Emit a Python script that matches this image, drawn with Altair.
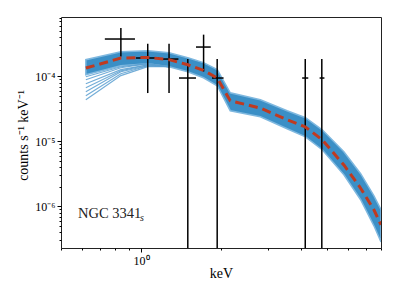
import altair as alt
import pandas as pd

# ---- data points (energy bins with errors) ----
pt_e   = [0.84, 1.06, 1.275, 1.50, 1.72, 1.935, 4.15, 4.79]
pt_elo = [0.731, 0.957, 1.18, 1.39, 1.61, 1.85, 4.04, 4.70]
pt_ehi = [0.949, 1.17, 1.383, 1.61, 1.83, 2.045, 4.26, 4.90]
pt_y   = [3.76e-4, 1.92e-4, 1.85e-4, 9.45e-5, 2.83e-4, 9.45e-5, 9.45e-5, 9.45e-5]
pt_ylo = [2.03e-4, 5.55e-5, 5.55e-5, 1e-8, 1.19e-4, 1e-8, 1e-8, 1e-8]
pt_yhi = [5.56e-4, 3.18e-4, 3.18e-4, 1.85e-4, 4.39e-4, 1.85e-4, 1.85e-4, 1.85e-4]

# ---- model realisations ----
model_e = [0.62, 0.84, 1.06, 1.275, 1.50, 1.718, 1.936, 2.167, 2.813, 3.546,
           4.158, 4.807, 5.80, 6.706, 7.525, 8.0]
median  = [1.345e-4, 1.92e-4, 1.96e-4, 1.81e-4, 1.51e-4, 1.24e-4, 9.45e-5, 4.22e-5,
           3.26e-5, 2.16e-5, 1.67e-5, 1.06e-5, 4.35e-6, 1.91e-6, 8.9e-7, 5.23e-7]
band_hi = [1.81e-4, 2.40e-4, 2.48e-4, 2.32e-4, 1.94e-4, 1.63e-4, 1.27e-4, 5.61e-5,
           4.38e-5, 2.97e-5, 2.32e-5, 1.51e-5, 6.95e-6, 3.19e-6, 1.46e-6, 8.9e-7]
band_lo = [1.06e-4, 1.46e-4, 1.57e-4, 1.41e-4, 1.18e-4, 9.55e-5, 7.19e-5, 2.97e-5,
           2.40e-5, 1.57e-5, 1.18e-5, 7.45e-6, 3.08e-6, 1.27e-6, 5.05e-7, 2.86e-7]

# lower realisations fanning out at low energy
fan_e = [0.62, 0.84, 1.06, 1.275]
fan_lines = [
    [9.89e-5, 1.41e-4, 1.57e-4, 1.41e-4],
    [8.89e-5, 1.36e-4, 1.57e-4, 1.41e-4],
    [7.72e-5, 1.27e-4, 1.51e-4, 1.41e-4],
    [6.70e-5, 1.22e-4, 1.51e-4, 1.41e-4],
    [5.82e-5, 1.18e-4, 1.46e-4, 1.41e-4],
    [5.05e-5, 1.10e-4, 1.46e-4, 1.41e-4],
    [4.38e-5, 1.03e-4, 1.41e-4, 1.41e-4],
]

x_major = [1]
x_minor = [0.5, 0.6, 0.7, 0.8, 0.9, 2, 3, 4, 5, 6, 7, 8]
y_major = [1e-6, 1e-5, 1e-4]
y_minor = [3e-7, 4e-7, 5e-7, 6e-7, 7e-7, 8e-7, 9e-7,
           2e-6, 3e-6, 4e-6, 5e-6, 6e-6, 7e-6, 8e-6, 9e-6,
           2e-5, 3e-5, 4e-5, 5e-5, 6e-5, 7e-5, 8e-5, 9e-5,
           2e-4, 3e-4, 4e-4, 5e-4, 6e-4, 7e-4, 8e-4]

label_text = "NGC 3341"
label_sub = "s"

FONT = "Liberation Serif"

model_df = pd.DataFrame({"e": model_e, "med": median, "hi": band_hi, "lo": band_lo})
fan_df = pd.DataFrame(
    [{"e": e, "v": v, "id": i} for i, line in enumerate(fan_lines) for e, v in zip(fan_e, line)]
)
pts_df = pd.DataFrame({"e": pt_e, "elo": pt_elo, "ehi": pt_ehi,
                       "y": pt_y, "ylo": pt_ylo, "yhi": pt_yhi})

xscale = alt.Scale(type="log", domain=[0.5, 8.0], nice=False, zero=False)
yscale = alt.Scale(type="log", domain=[2.3e-7, 8.2e-4], nice=False, zero=False)

ax_x_major = alt.Axis(values=x_major, orient="bottom", tickSize=4, labelExpr="'10⁰'",
                      title="keV", grid=False, domain=False, labelPadding=3,
                      labelFontSize=12, titleFontSize=14, titleY=25,
                      titleBaseline="middle", tickColor="black", labelColor="black")
ax_x_minor = alt.Axis(values=x_minor, orient="bottom", tickSize=2, labels=False,
                      title=None, grid=False, domain=False, tickColor="black")
ax_y_major = alt.Axis(values=y_major, orient="left", tickSize=4,
                      labelExpr="datum.value < 5e-6 ? '10⁻⁶' : (datum.value < 5e-5 ? '10⁻⁵' : '10⁻⁴')",
                      title="counts s⁻¹ keV⁻¹", grid=False, domain=False, labelPadding=2,
                      labelFontSize=12, titleFontSize=14, titleX=-38, titleY=118,
                      titleAngle=-90, titleAlign="center", titleBaseline="middle",
                      tickColor="black", labelColor="black")
ax_y_minor = alt.Axis(values=y_minor, orient="left", tickSize=2, labels=False,
                      title=None, grid=False, domain=False, tickColor="black")

band = alt.Chart(model_df).mark_area(
    color="#3b8fc6", stroke="#7fb8df", strokeWidth=1.5, opacity=1, clip=True
).encode(
    x=alt.X("e:Q", scale=xscale, axis=ax_x_major),
    y=alt.Y("lo:Q", scale=yscale, axis=ax_y_major),
    y2="hi:Q",
)

fans = alt.Chart(fan_df).mark_line(color="#5a9fd0", strokeWidth=1.2, opacity=0.85, clip=True).encode(
    x=alt.X("e:Q", scale=xscale, axis=None),
    y=alt.Y("v:Q", scale=yscale, axis=None),
    detail="id:N",
)

err_v = alt.Chart(pts_df).mark_rule(color="black", strokeWidth=1.5, clip=True).encode(
    x=alt.X("e:Q", scale=xscale, axis=None),
    y=alt.Y("ylo:Q", scale=yscale, axis=None),
    y2="yhi:Q",
)
err_h = alt.Chart(pts_df).mark_rule(color="black", strokeWidth=1.5, clip=True).encode(
    x=alt.X("elo:Q", scale=xscale, axis=None),
    x2="ehi:Q",
    y=alt.Y("y:Q", scale=yscale, axis=None),
)

med = alt.Chart(model_df).mark_line(
    color="#bf3a20", strokeWidth=3, strokeDash=[9, 5], clip=True
).encode(
    x=alt.X("e:Q", scale=xscale, axis=ax_x_minor),
    y=alt.Y("med:Q", scale=yscale, axis=ax_y_minor),
)

txt = alt.Chart(pd.DataFrame({"t": [label_text]})).mark_text(
    font=FONT, fontSize=14.5, align="left", baseline="alphabetic", color="#222"
).encode(text="t:N", x=alt.value(17), y=alt.value(201))

sub = alt.Chart(pd.DataFrame({"t": [label_sub]})).mark_text(
    font=FONT, fontSize=10, fontStyle="italic", align="left", baseline="alphabetic", color="#222"
).encode(text="t:N", x=alt.value(79), y=alt.value(204))

chart = alt.layer(band, fans, err_v, err_h, med, txt, sub).resolve_axis(
    x="independent", y="independent"
).properties(
    width=320, height=231,
    autosize=alt.AutoSizeParams(type="none"),
    padding={"left": 53, "top": 9, "right": 10, "bottom": 43},
).configure_view(
    stroke="#222", strokeWidth=1
).configure_axis(
    labelFont=FONT, titleFont=FONT, titleFontWeight="normal", tickWidth=1
)

chart.save("out.html", embed_options={"renderer": "svg", "actions": False})
